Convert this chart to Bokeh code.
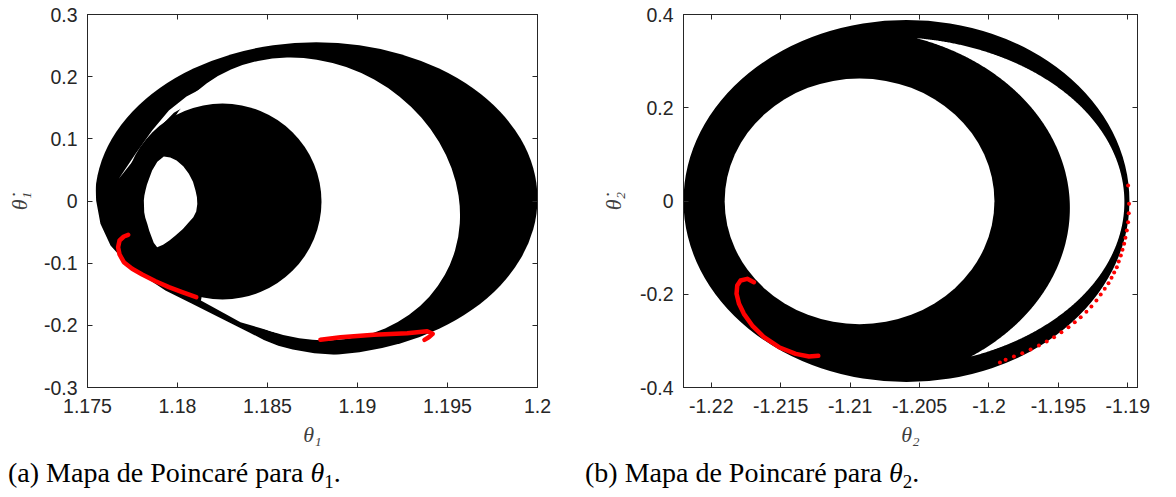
import numpy as np
from bokeh.plotting import figure
from bokeh.layouts import row, column
from bokeh.models import Range1d, LinearAxis, FixedTicker, Div
from bokeh.embed import file_html
from bokeh.resources import INLINE

# ======================= panel (a): theta_1 =======================
a_xlim = [1.175, 1.2]
a_ylim = [-0.3, 0.3]
a_xticks = [1.175, 1.18, 1.185, 1.19, 1.195, 1.2]
a_xtick_labels = ["1.175", "1.18", "1.185", "1.19", "1.195", "1.2"]
a_yticks = [-0.3, -0.2, -0.1, 0.0, 0.1, 0.2, 0.3]
a_ytick_labels = ["-0.3", "-0.2", "-0.1", "0", "0.1", "0.2", "0.3"]

# outer envelope of the black region (ellipse: centre, full width, full height)
a_outer = dict(x=[1.18771], y=[0.0037], w=[0.02458], h=[0.5034])

# flattened lower-left outer edge of the envelope
a_edge_x = [1.17544, 1.17548, 1.17572, 1.17628, 1.17711, 1.17822, 1.17933,
            1.18081, 1.18230, 1.18396, 1.18480, 1.18560, 1.18640, 1.18760, 1.18900]
a_edge_y = [0.0330, 0.0008, -0.0367, -0.0716, -0.0984, -0.1225, -0.1439,
            -0.1654, -0.1868, -0.2110, -0.2235, -0.2330, -0.2390, -0.2448, -0.2478]

# big empty region (tilted ellipse; angle in degrees)
a_hole = dict(x=[1.18725], y=[0.00323], w=[0.017389], h=[0.43912], angle=[-29.0])

# upper edge of the lower band below the inner disk
a_band_x = [1.1813, 1.1835, 1.1854, 1.1870]
a_band_y = [-0.160, -0.195, -0.211, -0.2185]

# thin empty sliver at upper left (outer edge then inner edge)
a_sliver_x = [1.17674, 1.17767, 1.17859, 1.17952, 1.18050, 1.18180,
              1.18250, 1.18090, 1.17980, 1.17876, 1.17780]
a_sliver_y = [0.0357, 0.0759, 0.1134, 0.1456, 0.1680, 0.1880,
              0.1800, 0.1600, 0.1420, 0.1115, 0.0745]

# filled inner disk
a_disk = dict(x=[1.1825], y=[-0.0008], w=[0.0110], h=[0.3153])

# lens-shaped empty region inside the disk
a_lens_x = [1.17924, 1.17960, 1.17995, 1.18032, 1.18063, 1.18086, 1.18100, 1.18108,
            1.18110, 1.18104, 1.18088, 1.18063, 1.18030, 1.17989, 1.17955, 1.17920,
            1.17887, 1.17868, 1.17856, 1.17843, 1.17832, 1.17821, 1.17815, 1.17813,
            1.17816, 1.17822, 1.17830, 1.17840, 1.17859, 1.17888]
a_lens_y = [0.0716, 0.0700, 0.0650, 0.0560, 0.0437, 0.0310, 0.0169, 0.0060,
            -0.0050, -0.0170, -0.0260, -0.0340, -0.0450, -0.0555, -0.0635, -0.0705,
            -0.0745, -0.0670, -0.0580, -0.0480, -0.0367, -0.0270, -0.0180, 0.0008,
            0.0090, 0.0169, 0.0260, 0.0340, 0.0491, 0.0630]

# red trajectories
a_red1_x = [1.17726, 1.17702, 1.17678, 1.17670, 1.17678, 1.17702, 1.17748,
            1.17804, 1.17878, 1.17952, 1.18026, 1.18104]
a_red1_y = [-0.0544, -0.0571, -0.0635, -0.0743, -0.0860, -0.0984, -0.1091,
            -0.1182, -0.1290, -0.1386, -0.1467, -0.1547]
a_red2_x = [1.18794, 1.18906, 1.19091, 1.19276, 1.19387, 1.19418, 1.19396, 1.19372]
a_red2_y = [-0.2233, -0.2191, -0.2153, -0.2126, -0.2094, -0.2136, -0.2191, -0.2233]

# ======================= panel (b): theta_2 =======================
b_xlim = [-1.2220, -1.1893]
b_ylim = [-0.4, 0.4]
b_xticks = [-1.22, -1.215, -1.21, -1.205, -1.2, -1.195, -1.19]
b_xtick_labels = ["-1.22", "-1.215", "-1.21", "-1.205", "-1.2", "-1.195", "-1.19"]
b_yticks = [-0.4, -0.2, 0.0, 0.2, 0.4]
b_ytick_labels = ["-0.4", "-0.2", "0", "0.2", "0.4"]

b_outer = dict(x=[-1.20594], y=[0.0], w=[0.03212], h=[0.7764])
b_hole = dict(x=[-1.20932], y=[-0.0007], w=[0.01943], h=[0.5268])
# empty crescent on the right = ellipse W minus ellipse B (centre x, centre y, semi-axes)
b_cres_outer = [-1.207248, -0.00215, 0.017003, 0.35389]
b_cres_inner = [-1.210238, -0.01502, 0.016066, 0.38349]

b_red1_x = [-1.21693, -1.21741, -1.21789, -1.21813, -1.21818, -1.21800, -1.21765,
            -1.21705, -1.21620, -1.21512, -1.21392, -1.21296, -1.21229]
b_red1_y = [-0.1742, -0.1670, -0.1706, -0.1813, -0.1991, -0.2206, -0.2420,
            -0.2671, -0.2922, -0.3136, -0.3278, -0.3336, -0.3321]

b_red2_x = [-1.18998, -1.18991, -1.18993, -1.18998, -1.19007, -1.19017, -1.19026,
            -1.19038, -1.19050, -1.19065, -1.19079, -1.19098, -1.19117, -1.19139,
            -1.19166, -1.19195, -1.19226, -1.19262, -1.19298, -1.19339, -1.19382,
            -1.19427, -1.19478, -1.19531, -1.19584, -1.19640, -1.19700, -1.19760,
            -1.19820, -1.19880, -1.19921]
b_red2_y = [0.0332, -0.0061, -0.0262, -0.0455, -0.0633, -0.0790, -0.0919,
            -0.1047, -0.1169, -0.1298, -0.1421, -0.1534, -0.1648, -0.1764,
            -0.1884, -0.2006, -0.2135, -0.2263, -0.2377, -0.2493, -0.2600,
            -0.2707, -0.2814, -0.2922, -0.3014, -0.3100, -0.3186, -0.3265,
            -0.3336, -0.3407, -0.3465]

caption_a = "(a) Mapa de Poincaré para "
caption_b = "(b) Mapa de Poincaré para "

AX = "#262626"
RED = "#ff0000"


def style_axes(p, xticks, xlabels, yticks, ylabels, xlab, ylab, ylab_standoff):
    p.xaxis.ticker = FixedTicker(ticks=xticks)
    p.xaxis.major_label_overrides = {t: l for t, l in zip(xticks, xlabels)}
    p.yaxis.ticker = FixedTicker(ticks=yticks)
    p.yaxis.major_label_overrides = {t: l for t, l in zip(yticks, ylabels)}
    for ax in (p.xaxis[0], p.yaxis[0]):
        ax.major_tick_in = 5
        ax.major_tick_out = 0
        ax.minor_tick_line_color = None
        ax.axis_line_color = AX
        ax.major_tick_line_color = AX
        ax.major_label_text_font = "Liberation Sans"
        ax.major_label_text_font_size = "19.5px"
        ax.major_label_text_color = AX
        ax.axis_label_text_font = "Liberation Serif"
        ax.axis_label_text_font_style = "italic"
        ax.axis_label_text_font_size = "22px"
        ax.axis_label_text_color = "#404040"
    p.xaxis.major_label_standoff = 11
    p.yaxis.major_label_standoff = 10
    p.xaxis.axis_label = xlab
    p.yaxis.axis_label = ylab
    p.xaxis.axis_label_standoff = 6
    p.yaxis.axis_label_standoff = ylab_standoff
    for loc, tk in (("above", xticks), ("right", yticks)):
        ax = LinearAxis(ticker=FixedTicker(ticks=tk), major_tick_in=5, major_tick_out=0,
                        minor_tick_line_color=None, axis_line_color=AX,
                        major_tick_line_color=AX, major_label_text_color=None,
                        major_label_text_font_size="1px", major_label_standoff=0)
        p.add_layout(ax, loc)
    p.outline_line_color = AX
    p.grid.visible = False


def crescent(outer, inner, n=1440):
    """Outline of ellipse `outer` minus ellipse `inner` (both axis aligned)."""
    t = np.linspace(-np.pi, np.pi, n, endpoint=False)
    ox = outer[0] + outer[2] * np.cos(t)
    oy = outer[1] + outer[3] * np.sin(t)
    keep_o = ((ox - inner[0]) / inner[2]) ** 2 + ((oy - inner[1]) / inner[3]) ** 2 > 1
    ix = inner[0] + inner[2] * np.cos(t)
    iy = inner[1] + inner[3] * np.sin(t)
    keep_i = ((ix - outer[0]) / outer[2]) ** 2 + ((iy - outer[1]) / outer[3]) ** 2 < 1
    xs = list(ox[keep_o][::-1]) + list(ix[keep_i])
    ys = list(oy[keep_o][::-1]) + list(iy[keep_i])
    return xs, ys


def caption(text, sub, width, pad):
    html = ('<div style="font-family:\'Liberation Serif\',\'Times New Roman\',serif;'
            'font-size:28px;line-height:32px;color:#000;white-space:nowrap;'
            'padding-left:%dpx">%s<i>θ</i><span style="font-size:19px;position:relative;'
            'top:6px">%s</span>.</div>' % (pad, text, sub))
    return Div(text=html, width=width, height=38, margin=(0, 0, 0, 0))


# ---------------- figure (a) ----------------
pa = figure(width=583, height=457, output_backend="svg", toolbar_location=None,
            x_range=Range1d(*a_xlim), y_range=Range1d(*a_ylim),
            min_border_left=87, min_border_right=46, min_border_top=14, min_border_bottom=70,
            background_fill_color="white", border_fill_color="white")
pa.ellipse(x=a_outer["x"], y=a_outer["y"], width=a_outer["w"], height=a_outer["h"],
           fill_color="black", line_color=None)
cut_x = a_edge_x + [a_edge_x[-1], a_xlim[0], a_xlim[0]]
cut_y = a_edge_y + [a_ylim[0], a_ylim[0], a_edge_y[0]]
pa.patch(cut_x, cut_y, fill_color="white", line_color=None)
pa.ellipse(x=a_hole["x"], y=a_hole["y"], width=a_hole["w"], height=a_hole["h"],
           angle=a_hole["angle"], angle_units="deg", fill_color="white", line_color=None)
pa.patch(a_band_x + a_disk["x"], a_band_y + a_disk["y"], fill_color="white", line_color=None)
pa.patch(a_sliver_x, a_sliver_y, fill_color="white", line_color=None)
pa.ellipse(x=a_disk["x"], y=a_disk["y"], width=a_disk["w"], height=a_disk["h"],
           fill_color="black", line_color=None)
pa.patch(a_lens_x, a_lens_y, fill_color="white", line_color=None)
pa.line(a_red1_x, a_red1_y, line_color=RED, line_width=4.5, line_cap="round", line_join="round")
pa.line(a_red2_x, a_red2_y, line_color=RED, line_width=4.5, line_cap="round", line_join="round")
style_axes(pa, a_xticks, a_xtick_labels, a_yticks, a_ytick_labels, "θ₁", "θ̇₁", 9)

# ---------------- figure (b) ----------------
pb = figure(width=591, height=457, output_backend="svg", toolbar_location=None,
            x_range=Range1d(*b_xlim), y_range=Range1d(*b_ylim),
            min_border_left=100, min_border_right=37, min_border_top=14, min_border_bottom=70,
            background_fill_color="white", border_fill_color="white")
pb.ellipse(x=b_outer["x"], y=b_outer["y"], width=b_outer["w"], height=b_outer["h"],
           fill_color="black", line_color=None)
cx, cy = crescent(b_cres_outer, b_cres_inner)
pb.patch(cx, cy, fill_color="white", line_color=None)
pb.ellipse(x=b_hole["x"], y=b_hole["y"], width=b_hole["w"], height=b_hole["h"],
           fill_color="white", line_color=None)
pb.line(b_red1_x, b_red1_y, line_color=RED, line_width=4.5, line_cap="round", line_join="round")
pb.scatter(b_red2_x, b_red2_y, marker="circle", size=4, fill_color=RED, line_color=None)
style_axes(pb, b_xticks, b_xtick_labels, b_yticks, b_ytick_labels, "θ₂", "θ̇₂", 11)

cap_a = caption(caption_a, "1", 583, 8)
cap_b = caption(caption_b, "2", 591, 2)

layout = column(row(pa, pb), row(cap_a, cap_b))
open("out.html", "w").write(file_html(layout, INLINE))
